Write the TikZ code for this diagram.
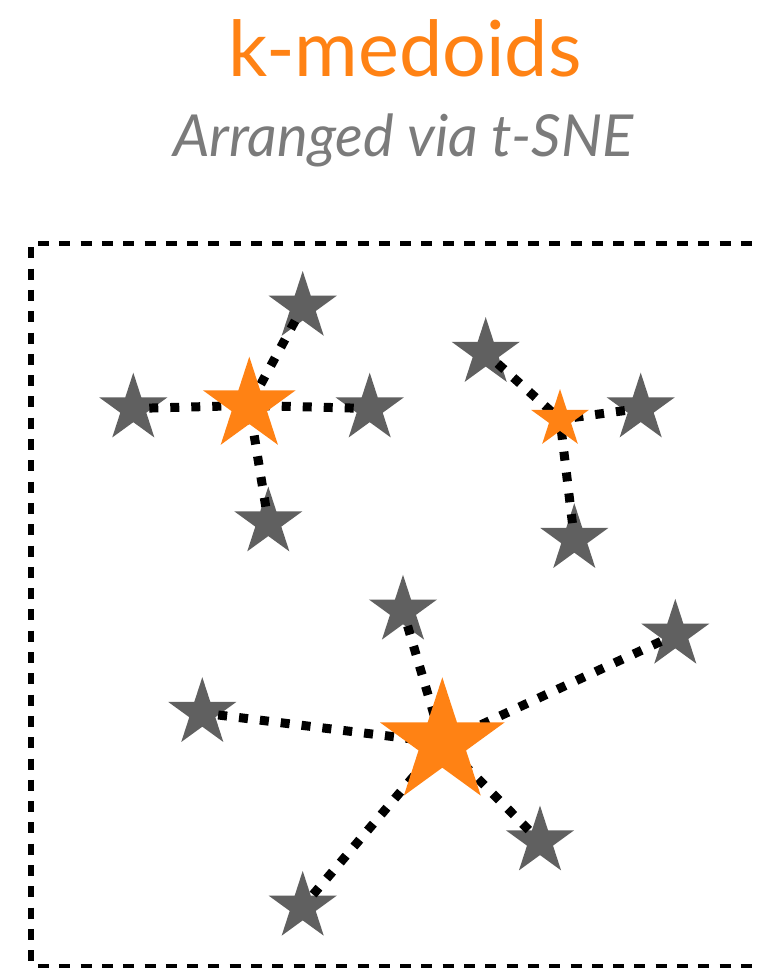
\documentclass[tikz,border=0pt]{standalone}
\usepackage{fontspec}
\setmainfont{Lato}
\usetikzlibrary{shapes.geometric,backgrounds}
\pgfdeclarelayer{foreground}
\pgfsetlayers{background,main,foreground}
\definecolor{korange}{HTML}{FF8214}
\definecolor{kgray}{HTML}{606060}
\definecolor{subgray}{HTML}{7B7B7B}
\tikzset{
  starbase/.style={star, star points=5, star point ratio=2.618, inner sep=0pt, outer sep=0pt, draw=none},
  member/.style={starbase, fill=kgray, minimum size=71.6pt},
  medoid/.style={starbase, fill=korange},
  link/.style={line width=9pt, dash pattern=on 9pt off 12pt, shorten <=16pt},
  frame/.style={line width=5.3pt, dash pattern=on 11pt off 10.3pt},
}
\begin{document}
\begin{tikzpicture}[x=1pt,y=-1pt]
\useasboundingbox (0,0) rectangle (759,968);
\fill[white] (0,0) rectangle (759,968);

% titles
\node[anchor=base, inner sep=0pt, text=korange] (title) at (405,76.7)
  {\resizebox{353pt}{!}{k-medoids}};
\node[anchor=base, inner sep=0pt, text=subgray] (subtitle) at (403.3,156.7)
  {\resizebox{460pt}{!}{\itshape Arranged via t-SNE}};

% frame (right side lies beyond the picture)
\begin{scope}
\clip (0,0) rectangle (759,968);
\coordinate (ftl) at (31,243.3);
\coordinate (ftr) at (800,243.3);
\coordinate (fbl) at (31,966.5);
\coordinate (fbr) at (800,966.5);
\draw[frame, dash phase=14.3pt] (ftl) -- (ftr);
\draw[frame, dash phase=17.3pt] (ftl) -- (fbl);
\draw[frame, dash phase=14.3pt] (fbl) -- (fbr);
\end{scope}

% medoids (on top)
\begin{pgfonlayer}{foreground}
  \node[medoid, minimum size=97.4pt]  (o1) at (249.3,405.4) {};
  \node[medoid, minimum size=60.6pt]  (o2) at (560,419.3) {};
  \node[medoid, minimum size=130.8pt] (o3) at (442.3,742.7) {};
\end{pgfonlayer}

% cluster 1 members
\node[member] (a1) at (302.7,306.8) {};
\node[member] (a2) at (133.3,408.5) {};
\node[member] (a3) at (369.7,408.5) {};
\node[member] (a4) at (268.3,522.4) {};

% cluster 2 members
\node[member] (b1) at (485.7,352.9) {};
\node[member] (b2) at (640.7,408.4) {};
\node[member] (b3) at (574.3,539) {};

% cluster 3 members
\node[member] (c1) at (403,610.6) {};
\node[member] (c2) at (202.3,713) {};
\node[member] (c3) at (675.3,634.7) {};
\node[member] (c4) at (540,841.4) {};
\node[member] (c5) at (302.7,906.7) {};

% links
\foreach \m in {a1,a2,a3,a4} \draw[link] (\m.center) -- (o1.center);
\foreach \m in {b1,b2,b3} \draw[link] (\m.center) -- (o2.center);
\foreach \m in {c1,c2,c3,c4,c5} \draw[link] (\m.center) -- (o3.center);
\end{tikzpicture}
\end{document}
